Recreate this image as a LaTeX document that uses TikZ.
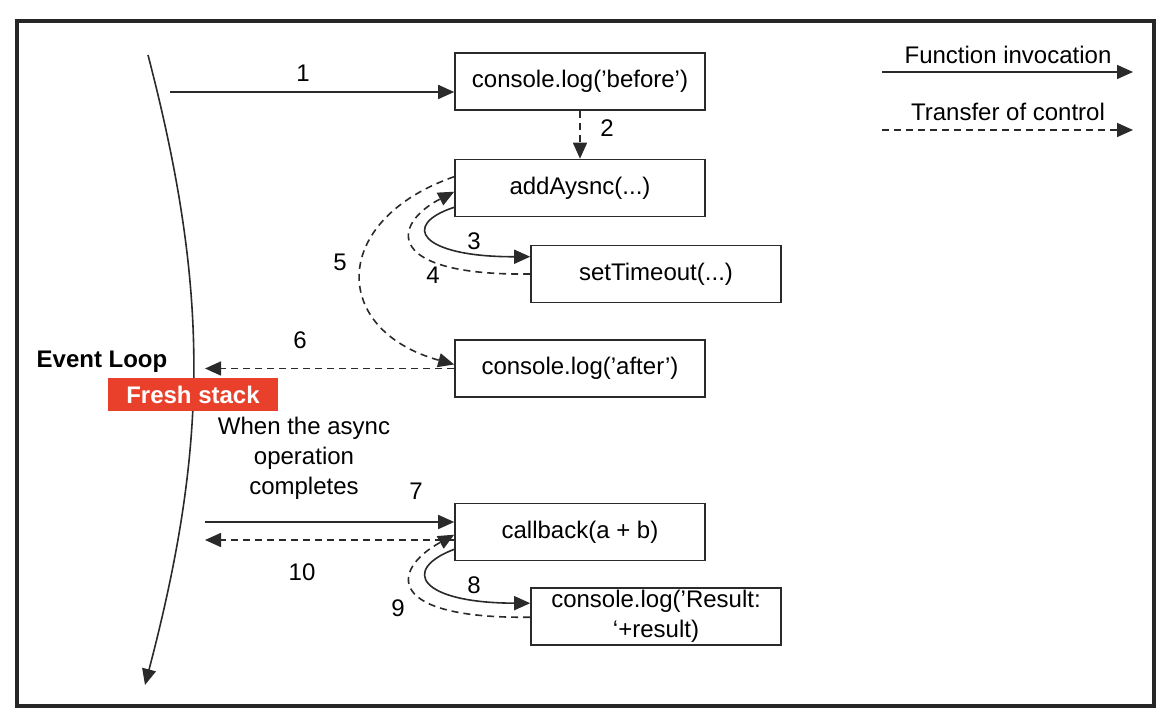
\documentclass[tikz,border=0pt]{standalone}
\usepackage{fontspec}
\setmainfont{Liberation Sans}
\usetikzlibrary{arrows.meta,positioning}
\definecolor{freshred}{HTML}{E8402A}
\definecolor{inkgray}{HTML}{2A2A2A}

\begin{document}
\begin{tikzpicture}[x=0.5pt,y=-0.5pt,font=\fontsize{12}{15}\selectfont,
  box/.style={draw=inkgray,line width=0.8pt,minimum width=125pt,minimum height=28.5pt,inner sep=0pt,align=center},
  call/.style={draw=inkgray,line width=0.8pt,-{Triangle[length=8pt,width=7pt]}},
  ctrl/.style={call,dash pattern=on 3.5pt off 2.5pt},
  boldtxt/.style={font=\fontsize{12}{15}\selectfont\bfseries}]

\useasboundingbox (0,0) rectangle (1172,726);
\draw[line width=1.8pt,black!85] (17,21) rectangle (1154,706);

\node[box] (before) at (580,81.5) {console.log('before')};
\node[box] (addasync) at (580,188) {addAysnc(...)};
\node[box] (settimeout) at (656,274) {setTimeout(...)};
\node[box] (after) at (580,368.5) {console.log('after')};
\node[box] (callback) at (580,532) {callback(a + b)};
\node[box] (result) at (656,616.5) {console.log('Result:\\`+result)};

\coordinate (looptop) at (148,55);
\coordinate (loopend) at (145,685);
\draw[call] (looptop) .. controls (210,293) and (208,445) .. (loopend);
\node[boldtxt] (eventloop) at (102,362) {Event Loop};
\node[boldtxt,fill=freshred,text=white,minimum width=85pt,minimum height=16.5pt,inner sep=0pt] (fresh) at (193,394.5) {Fresh stack};
\node[align=center] (whenasync) at (304,458) {When the async\\operation\\completes};

\coordinate (from1) at (170,92);
\draw[call] (from1) -- (from1 -| before.west);
\draw[ctrl] (before) -- (addasync);
\draw[call] ([yshift=5pt]addasync.south west) .. controls (400,225) and (420,257) .. ([yshift=-6pt]settimeout.north west);
\draw[ctrl] (settimeout.west) .. controls (385,276) and (390,225) .. ([yshift=-16.5pt]addasync.north west);
\draw[ctrl] ([yshift=-9pt]addasync.north west) .. controls (330,220) and (330,330) .. ([yshift=2pt]after.west);
\coordinate (to6) at (205,368.5);
\draw[ctrl] (after.west) -- (to6);
\coordinate (from7) at (205,522);
\draw[call] (from7) -- (from7 -| callback.west);
\coordinate (to10) at (205,540);
\draw[ctrl] (to10 -| callback.west) -- (to10);
\draw[call] ([yshift=6pt]callback.south west) .. controls (400,570) and (420,603) .. ([yshift=-8pt]result.north west);
\draw[ctrl] ([yshift=-15pt]result.north west) .. controls (385,619) and (390,570) .. ([yshift=-16pt]callback.north west);

\node (n1) at (303,73) {1};
\node (n2) at (607,128) {2};
\node (n3) at (474,241) {3};
\node (n4) at (433,275) {4};
\node (n5) at (340,262) {5};
\node (n6) at (300,340) {6};
\node (n7) at (416,491) {7};
\node (n8) at (474,585) {8};
\node (n9) at (398,608) {9};
\node (n10) at (302,572) {10};

\node (legfunc) at (1008,55) {Function invocation};
\coordinate (legfuncA) at (882,72);
\coordinate (legfuncB) at (1133,72);
\draw[call] (legfuncA) -- (legfuncB);
\node (legctrl) at (1008,112) {Transfer of control};
\coordinate (legctrlA) at (882,130);
\coordinate (legctrlB) at (1133,130);
\draw[ctrl] (legctrlA) -- (legctrlB);
\end{tikzpicture}
\end{document}
